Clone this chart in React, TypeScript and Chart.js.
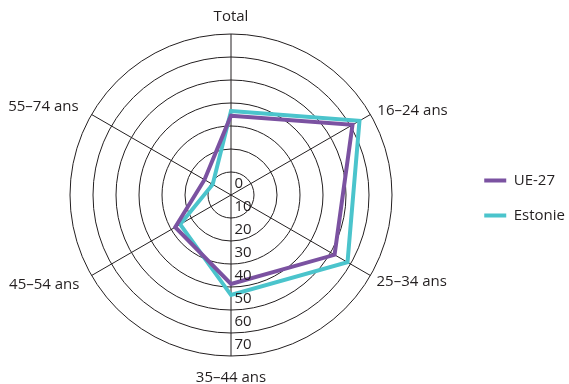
import React, { useEffect, useRef } from 'react';
import { Chart, registerables } from 'chart.js';

Chart.register(...registerables);

const categories = ['Total', '16–24 ans', '25–34 ans', '35–44 ans', '45–54 ans', '55–74 ans'];
const seriesNames = ['UE-27', 'Estonie'];
const ue27Values = [34.5, 61, 52, 38.7, 28, 13.3];
const estonieValues = [36.5, 64.5, 58.5, 43.5, 25.5, 9.2];
const tickValues = [0, 10, 20, 30, 40, 50, 60, 70];

const FONT = "'Open Sans', sans-serif";
const TEXT = '#231F20';
const LINE = '#231F20';
const PURPLE = '#7B52A1';
const CYAN = '#4BC4CC';
const labelPadding = [17, 8, 7, 22, 14, 15];
const labelLineHeight = [0, 0, 6, 0, 4, 0];

const tickLabelPlugin = {
  id: 'downTicks',
  afterDatasetsDraw(chart: any) {
    const scale = chart.scales.r;
    const ctx = chart.ctx;
    ctx.save();
    ctx.font = `15px ${FONT}`;
    ctx.fillStyle = TEXT;
    ctx.textAlign = 'left';
    ctx.textBaseline = 'middle';
    tickValues.forEach((v) => {
      const d = scale.getDistanceFromCenterForValue(v);
      ctx.fillText(String(v), scale.xCenter + 3.5, scale.yCenter + d - 11);
    });
    ctx.restore();
  },
};

export default function App() {
  const ref = useRef<HTMLCanvasElement | null>(null);
  useEffect(() => {
    if (!ref.current) return;
    const chart = new Chart(ref.current, {
      type: 'radar',
      data: {
        labels: categories,
        datasets: [
          {
            label: seriesNames[0],
            data: ue27Values,
            borderColor: PURPLE,
            backgroundColor: PURPLE,
            borderWidth: 4,
            pointRadius: 0,
            fill: false,
            borderJoinStyle: 'miter',
          },
          {
            label: seriesNames[1],
            data: estonieValues,
            borderColor: CYAN,
            backgroundColor: CYAN,
            borderWidth: 4,
            pointRadius: 0,
            fill: false,
            borderJoinStyle: 'miter',
          },
        ],
      },
      options: {
        animation: false,
        responsive: true,
        maintainAspectRatio: false,
        layout: { padding: { top: 15, bottom: 3, left: 0, right: 0 } },
        plugins: {
          legend: {
            position: 'right',
            labels: {
              usePointStyle: true,
              pointStyle: 'line',
              pointStyleWidth: 22,
              boxHeight: 15,
              font: { family: FONT, size: 15 },
              color: TEXT,
              padding: 20,
            },
          },
          tooltip: { enabled: false },
        },
        scales: {
          r: {
            min: 0,
            max: 70,
            ticks: { display: false, stepSize: 10 },
            grid: { circular: true, color: LINE, lineWidth: 1 },
            angleLines: { color: LINE, lineWidth: 1 },
            pointLabels: {
              font: (c: any) => ({ family: FONT, size: 15, lineHeight: `${labelLineHeight[c.index]}px` }),
              color: TEXT,
              padding: (c: any) => labelPadding[c.index],
            },
          },
        },
      },
      plugins: [tickLabelPlugin],
    } as any);
    return () => chart.destroy();
  }, []);
  return (
    <div style={{ position: 'absolute', left: 0, top: 0, width: 569, height: 384, overflow: 'hidden', background: '#fff' }}>
      <div style={{ position: 'absolute', left: -8, top: 0, width: 583, height: 384 }}>
        <canvas ref={ref} />
      </div>
    </div>
  );
}
